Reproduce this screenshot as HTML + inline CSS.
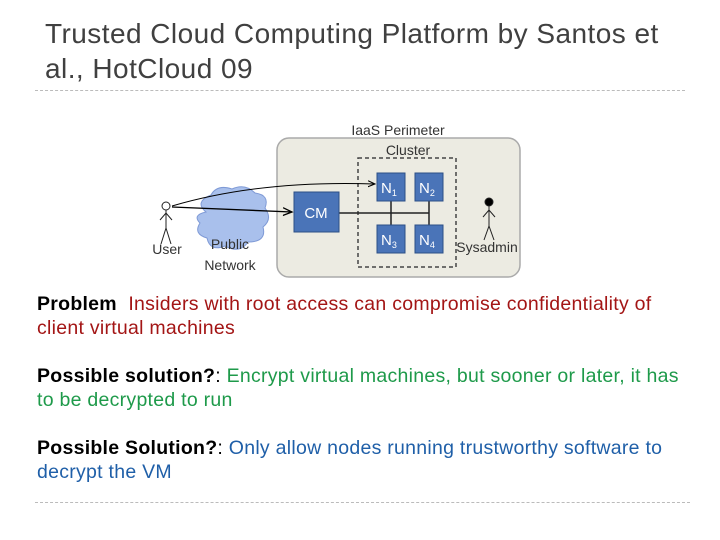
<!DOCTYPE html>
<html><head><style>
body{margin:0;width:720px;height:540px;background:#fff;position:relative;overflow:hidden;font-family:"Liberation Sans",sans-serif}
.t{position:absolute;left:45px;font-size:28px;color:#404040;white-space:nowrap;letter-spacing:0.45px}
.p{position:absolute;left:37px;font-size:19.5px;line-height:24px;white-space:nowrap;letter-spacing:0.27px}
b{color:#000}
</style></head><body>
<div class="t" style="top:18px">Trusted Cloud Computing Platform by Santos et</div>
<div class="t" style="top:53px">al., HotCloud 09</div>
<div style="position:absolute;left:35px;top:90px;width:650px;border-top:1px dashed #bbb"></div>
<div style="position:absolute;left:35px;top:502px;width:655px;border-top:1px dashed #bbb"></div>

<svg style="position:absolute;left:0;top:0" width="720" height="540" font-family="Liberation Sans,sans-serif">
<defs><marker id="a" markerWidth="8" markerHeight="8" refX="7" refY="4" orient="auto"><path d="M0,1 L7,4 L0,7" fill="none" stroke="#000" stroke-width="1"/></marker></defs>
<rect x="277" y="138" width="243" height="139" rx="12" fill="#ecebe2" stroke="#aaa" stroke-width="1.5"/>
<text x="398" y="135" font-size="14" text-anchor="middle" fill="#333">IaaS Perimeter</text>
<rect x="358" y="158" width="98" height="109" fill="none" stroke="#444" stroke-dasharray="4,3" stroke-width="1.5"/>
<text x="408" y="155" font-size="14" text-anchor="middle" fill="#333">Cluster</text>
<path d="M339,213 H429 M391,201 V225 M429,201 V225" stroke="#222" stroke-width="1.5"/>
<g fill="#4a74b8" stroke="#2c4f86">
<rect x="294" y="192" width="45" height="40"/>
<rect x="377" y="173" width="28" height="28"/><rect x="415" y="173" width="28" height="28"/>
<rect x="377" y="225" width="28" height="28"/><rect x="415" y="225" width="28" height="28"/>
</g>
<g fill="#fff" font-size="15">
<text x="316" y="218" text-anchor="middle">CM</text>
<text x="381" y="193">N<tspan font-size="9" dy="3">1</tspan></text>
<text x="419" y="193">N<tspan font-size="9" dy="3">2</tspan></text>
<text x="381" y="245">N<tspan font-size="9" dy="3">3</tspan></text>
<text x="419" y="245">N<tspan font-size="9" dy="3">4</tspan></text>
</g>
<path d="M206,212 q-12,-10 5,-17 q6,-11 21,-6 q13,-6 23,4 q15,2 10,15 q8,11 -2,19 q4,15 -15,15 q-8,12 -23,4 q-15,6 -18,-8 q-14,-4 -7,-15 q-8,-8 6,-11z" fill="#a9c0ec" stroke="#7f9ad6"/>
<path d="M172,207 L292,212" stroke="#000" stroke-width="1.3" marker-end="url(#a)"/>
<path d="M172,206 Q260,180 375,184" stroke="#000" stroke-width="1" fill="none" marker-end="url(#a)"/>
<g stroke="#222" fill="none" stroke-width="1">
<circle cx="166" cy="206" r="4" fill="#fff"/>
<path d="M166,210 V228 M160,220 L166,213 L172,220 M161,244 L166,228 L171,244"/>
<circle cx="489" cy="202" r="4" fill="#000"/>
<path d="M489,206 V226 M483,217 L489,210 L495,217 M484,240 L489,226 L494,240"/>
</g>
<g font-size="14" fill="#333">
<text x="167" y="254" text-anchor="middle">User</text>
<text x="230" y="249" text-anchor="middle">Public</text>
<text x="230" y="270" text-anchor="middle">Network</text>
<text x="487" y="252" text-anchor="middle">Sysadmin</text>
</g>
</svg>

<div class="p" style="top:292px"><b>Problem</b> <span style="color:#a31515">&nbsp;Insiders with root access can compromise confidentiality of<br>client virtual machines</span></div>
<div class="p" style="top:364px"><b>Possible solution?</b>: <span style="color:#1e9a4a">Encrypt virtual machines, but sooner or later, it has<br>to be decrypted to run</span></div>
<div class="p" style="top:436px"><b>Possible Solution?</b>: <span style="color:#1f5fa8">Only allow nodes running trustworthy software to<br>decrypt the VM</span></div>
</body></html>
